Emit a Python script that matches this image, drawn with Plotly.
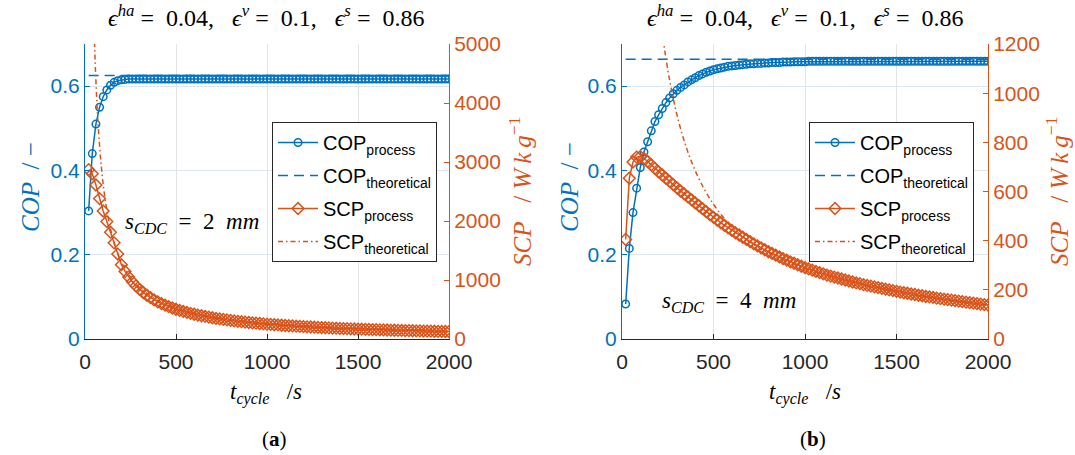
import plotly.graph_objects as go

# ---------------- data ----------------
t_cycle = list(range(20, 2001, 20))

cop_proc_a = [0.304, 0.440, 0.510, 0.550, 0.575, 0.591, 0.602, 0.609, 0.613, 0.615,
              0.616, 0.617, 0.617, 0.617, 0.617, 0.617, 0.617, 0.617, 0.617, 0.617,
              0.617, 0.617, 0.617, 0.617, 0.617, 0.617, 0.617, 0.617, 0.617, 0.617,
              0.617, 0.617, 0.617, 0.617, 0.617, 0.617, 0.617, 0.617, 0.617, 0.617,
              0.617, 0.617, 0.617, 0.617, 0.617, 0.617, 0.617, 0.617, 0.617, 0.617,
              0.617, 0.617, 0.617, 0.617, 0.617, 0.617, 0.617, 0.617, 0.617, 0.617,
              0.617, 0.617, 0.617, 0.617, 0.617, 0.617, 0.617, 0.617, 0.617, 0.617,
              0.617, 0.617, 0.617, 0.617, 0.617, 0.617, 0.617, 0.617, 0.617, 0.617,
              0.617, 0.617, 0.617, 0.617, 0.617, 0.617, 0.617, 0.617, 0.617, 0.617,
              0.617, 0.617, 0.617, 0.617, 0.617, 0.617, 0.617, 0.617, 0.617, 0.617]

scp_proc_a = [2870, 2800, 2610, 2380, 2170, 1990, 1810, 1630, 1440, 1260,
              1145, 1050, 969, 900, 840, 788, 741, 700, 663, 630,
              600, 573, 548, 525, 504, 485, 467, 450, 434, 420,
              406, 394, 382, 371, 360, 350, 341, 332, 323, 315,
              307, 300, 293, 286, 280, 274, 268, 263, 257, 252,
              247, 242, 238, 233, 229, 225, 221, 217, 214, 210,
              207, 203, 200, 197, 194, 191, 188, 185, 183, 180,
              177, 175, 173, 170, 168, 166, 164, 162, 159, 158,
              156, 154, 152, 150, 148, 147, 145, 143, 142, 140,
              138, 137, 135, 134, 133, 131, 130, 129, 127, 126]

cop_proc_b = [0.083, 0.215, 0.300, 0.358, 0.407, 0.444, 0.468, 0.494, 0.516, 0.532,
              0.547, 0.561, 0.572, 0.582, 0.590, 0.597, 0.603, 0.610, 0.615, 0.620,
              0.625, 0.629, 0.633, 0.636, 0.639, 0.641, 0.643, 0.645, 0.647, 0.648,
              0.649, 0.650, 0.651, 0.652, 0.653, 0.653, 0.654, 0.654, 0.655, 0.655,
              0.656, 0.656, 0.656, 0.657, 0.657, 0.657, 0.658, 0.658, 0.658, 0.658,
              0.659, 0.659, 0.659, 0.659, 0.659, 0.659, 0.659, 0.659, 0.659, 0.659,
              0.659, 0.659, 0.659, 0.659, 0.659, 0.659, 0.659, 0.659, 0.659, 0.659,
              0.659, 0.659, 0.659, 0.659, 0.659, 0.659, 0.659, 0.659, 0.659, 0.659,
              0.659, 0.659, 0.659, 0.659, 0.659, 0.659, 0.659, 0.659, 0.659, 0.659,
              0.659, 0.659, 0.659, 0.659, 0.659, 0.659, 0.659, 0.659, 0.659, 0.659]

scp_proc_b = [405, 654, 720, 740, 742, 735, 722, 708, 694, 680,
              667, 654, 641, 628, 615, 602, 590, 578, 566, 554,
              542, 530, 518, 506, 495, 484, 473, 462, 452, 442,
              432, 423, 414, 405, 396, 387, 379, 371, 363, 355,
              348, 341, 334, 327, 321, 314, 308, 302, 296, 290,
              285, 280, 275, 270, 265, 260, 256, 252, 248, 244,
              240, 236, 232, 228, 225, 221, 218, 215, 212, 209,
              206, 203, 200, 197, 194, 191, 188, 186, 183, 181,
              178, 176, 173, 171, 169, 166, 164, 162, 160, 158,
              156, 154, 152, 150, 148, 146, 144, 142, 140, 138]

t_cop_theo = [20, 2000]
cop_theo_a = [0.625, 0.625]
cop_theo_b = [0.664, 0.664]

t_scp_theo_a = [48, 52, 56, 60, 65, 70, 80, 90, 100, 115, 130, 150, 175, 200,
                250, 300, 400, 500, 650, 800, 1000, 1250, 1500, 1750, 2000]
scp_theo_a = [5460, 5040, 4680, 4370, 4030, 3740, 3280, 2910, 2620, 2280, 2015, 1745,
              1497, 1310, 1048, 873, 655, 524, 400, 322, 258, 205, 170, 146, 128]

t_scp_theo_b = [215, 220, 230, 240, 260, 280, 300, 330, 360, 400, 450, 500, 550,
                600, 700, 800, 1000, 1250, 1500, 1750, 2000]
scp_theo_b = [1274, 1245, 1191, 1142, 1054, 979, 913, 830, 761, 685, 609, 548, 498,
              455, 393, 350, 287, 234, 193, 162, 137]

x_ticks = [0, 500, 1000, 1500, 2000]
cop_ticks = [0, 0.2, 0.4, 0.6]
scp_ticks_a = [0, 1000, 2000, 3000, 4000, 5000]
scp_ticks_b = [0, 200, 400, 600, 800, 1000, 1200]

# ---------------- style ----------------
W, H = 1075, 455
BLUE = "#0072BD"
ORANGE = "#D95319"
DARK = "#262626"
SANS = "Liberation Sans, Arial, sans-serif"
SERIF = "Liberation Serif, DejaVu Serif, serif"
TICKF = 21
LEGF = 20
NB = "\u00a0"
THIN = "\u2009"


def px_x(p):
    return p / W


def px_y(p):
    return (H - p) / H


fig = go.Figure()


def add_panel(xa, ya_cop, ya_scp, legend, cop_p, cop_t, scp_p, t_st, scp_t):
    fig.add_trace(go.Scatter(
        x=t_cop_theo, y=cop_t, xaxis=xa, yaxis=ya_cop, mode="lines",
        line=dict(color=BLUE, width=1.5, dash="10px,6px"),
        name="COP<sub>theoretical</sub>", legend=legend, legendrank=2,
        legendgroup=legend + "2"))
    fig.add_trace(go.Scatter(
        x=t_cycle, y=cop_p, xaxis=xa, yaxis=ya_cop, mode="lines+markers",
        line=dict(color=BLUE, width=1.5),
        marker=dict(symbol="circle-open", size=7.5, color=BLUE, line=dict(width=1.5)),
        name="COP<sub>process</sub>", legend=legend, legendrank=1,
        legendgroup=legend + "1"))
    fig.add_trace(go.Scatter(
        x=t_cycle, y=scp_p, xaxis=xa, yaxis=ya_scp, mode="lines+markers",
        line=dict(color=ORANGE, width=1.5),
        marker=dict(symbol="diamond-open", size=9, color=ORANGE, line=dict(width=1.5)),
        name="SCP<sub>process</sub>", legend=legend, legendrank=3,
        legendgroup=legend + "3"))
    fig.add_trace(go.Scatter(
        x=t_st, y=scp_t, xaxis=xa, yaxis=ya_scp, mode="lines",
        line=dict(color=ORANGE, width=1.5, dash="5px,3px,1.5px,3px", shape="spline"),
        name="SCP<sub>theoretical</sub>", legend=legend, legendrank=4,
        legendgroup=legend + "4"))


add_panel("x", "y", "y2", "legend", cop_proc_a, cop_theo_a, scp_proc_a,
          t_scp_theo_a, scp_theo_a)
add_panel("x2", "y3", "y4", "legend2", cop_proc_b, cop_theo_b, scp_proc_b,
          t_scp_theo_b, scp_theo_b)

ydom = [px_y(339), px_y(44)]
xdomA = [px_x(85), px_x(449)]
xdomB = [px_x(622), px_x(988)]


def xaxis(dom, anchor):
    return dict(domain=dom, anchor=anchor, range=[0, 2000], tickvals=x_ticks,
                showgrid=True, gridcolor="#e4e4e4", gridwidth=1, zeroline=False,
                showline=True, linecolor=DARK, linewidth=1, ticks="inside",
                ticklen=5, tickcolor=DARK, automargin=False, ticklabelstandoff=4,
                tickfont=dict(family=SANS, size=TICKF, color=DARK))


def ycop(anchor):
    return dict(domain=ydom, anchor=anchor, range=[0, 0.7], tickvals=cop_ticks,
                ticktext=["0", "0.2", "0.4", "0.6"], automargin=False,
                showgrid=True, gridcolor="#dde7ef", gridwidth=1, zeroline=False,
                showline=True, linecolor=BLUE, linewidth=1, ticks="inside",
                ticklen=5, tickcolor=BLUE, tickfont=dict(family=SANS, size=TICKF, color=BLUE))


def yscp(anchor, over, rng, tv):
    return dict(anchor=anchor, overlaying=over, side="right", range=rng, tickvals=tv,
                showgrid=False, zeroline=False, showline=True, linecolor=ORANGE,
                linewidth=1, ticks="inside", ticklen=5, tickcolor=ORANGE, automargin=False,
                tickfont=dict(family=SANS, size=TICKF, color=ORANGE))


legend_common = dict(bgcolor="white", bordercolor=DARK, borderwidth=1,
                     font=dict(family=SANS, size=LEGF, color="black"),
                     xanchor="left", yanchor="top", itemwidth=40,
                     traceorder="grouped", tracegroupgap=4)

fig.update_layout(
    width=W, height=H, margin=dict(l=0, r=0, t=0, b=0, pad=0, autoexpand=False),
    paper_bgcolor="white", plot_bgcolor="white", showlegend=True,
    xaxis=xaxis(xdomA, "y"),
    yaxis=ycop("x"),
    yaxis2=yscp("x", "y", [0, 5000], scp_ticks_a),
    xaxis2=xaxis(xdomB, "y3"),
    yaxis3=ycop("x2"),
    yaxis4=yscp("x2", "y3", [0, 1200], scp_ticks_b),
    legend=dict(x=px_x(272), y=px_y(122), **legend_common),
    legend2=dict(x=px_x(809), y=px_y(122), **legend_common),
)

EQ = NB + "=" + NB * 2
title_txt = ("<i>ϵ</i><sup><i>ha</i></sup>" + EQ + "0.04," + NB * 3 +
             "<i>ϵ</i><sup><i>v</i></sup>" + EQ + "0.1," + NB * 3 +
             "<i>ϵ</i><sup><i>s</i></sup>" + EQ + "0.86")
ann = []


def A(text, x, y, size, color="black", family=SERIF, angle=0):
    ann.append(dict(text=text, x=px_x(x), y=px_y(y), xref="paper", yref="paper",
                    showarrow=False, xanchor="center", yanchor="middle",
                    textangle=angle, font=dict(family=family, size=size, color=color)))


scp_label = ("<i>SCP</i>" + NB * 3 + "/" + NB + "<i>W" + THIN + "k" + THIN +
             "g</i><sup>−1</sup>")

for cx, cop_x, scp_x, cap, sx, sy, sval in [
        (266, 30, 520, "(<b>a</b>)", 192, 223, "2"),
        (805, 569, 1057, "(<b>b</b>)", 729, 302, "4")]:
    A(title_txt, cx, 16, 24)
    A("<i>t<sub>cycle</sub></i>" + NB * 3 + "/<i>s</i>", cx, 393, 23)
    A("<i>COP</i>" + NB * 2 + "/" + NB + "−", cop_x, 187, 25, BLUE, angle=-90)
    A(scp_label, scp_x, 192, 25, ORANGE, angle=-90)
    A(cap, cx + 8, 439, 21)
    A("<i>s<sub>CDC</sub></i>" + NB * 2 + "=" + NB * 2 + sval + NB * 2 + "<i>mm</i>",
      sx, sy, 23)

fig.update_layout(annotations=ann)

fig.write_html("out.html")
